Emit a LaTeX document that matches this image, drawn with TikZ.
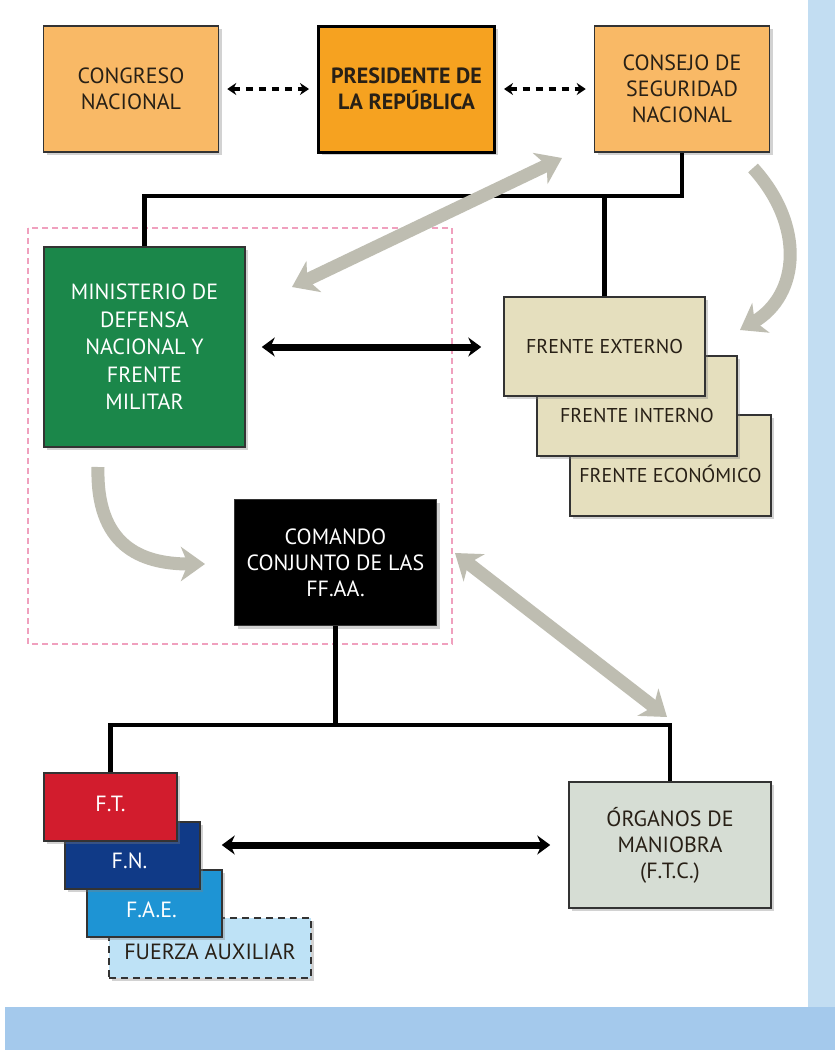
\documentclass[tikz,border=0pt]{standalone}
\usepackage{fontspec}
\setmainfont{PT Sans}
\usetikzlibrary{calc,arrows.meta,shadows}
\definecolor{congresoOrange}{RGB}{249,185,102}
\definecolor{presiOrange}{RGB}{246,162,32}
\definecolor{defensaGreen}{RGB}{27,135,74}
\definecolor{frenteBeige}{RGB}{229,223,190}
\definecolor{ftRed}{RGB}{210,28,45}
\definecolor{fnBlue}{RGB}{16,58,135}
\definecolor{faeBlue}{RGB}{30,148,212}
\definecolor{auxBlue}{RGB}{190,226,246}
\definecolor{organoGrey}{RGB}{214,221,212}
\definecolor{arrowGrey}{RGB}{190,189,177}
\definecolor{boxText}{RGB}{40,32,22}
\definecolor{frameBlue}{RGB}{194,221,242}
\definecolor{bandBlue}{RGB}{164,201,236}
\definecolor{frameRose}{RGB}{240,160,190}
\tikzset{x=1pt, y=-1pt,
  org box/.style={draw=black!80, line width=1.5pt, align=center, text=boxText,
        font=\fontsize{22}{26}\selectfont,
        drop shadow={shadow xshift=3pt, shadow yshift=-3pt, opacity=0.35}},
  stack text/.style={font=\fontsize{22}{26}\selectfont},
  narrow text/.style={font=\fontsize{20}{24}\selectfont},
  link line/.style={line width=4.5pt, draw=black},
  both arrow/.style={draw=black, line width=7pt, <->, >={Stealth[length=13pt,width=19pt]}},
  dash arrow/.style={draw=black, <->, >={Stealth[length=9pt,width=12pt]}, line width=4pt,
        dash pattern=on 7pt off 6pt, shorten <=8pt, shorten >=8pt},
  gray arrow/.style={line width=13pt, draw=arrowGrey,
        -{Stealth[length=24pt,width=34pt,inset=7pt]}},
  gray twin/.style={line width=13pt, draw=arrowGrey,
        {Stealth[length=24pt,width=34pt,inset=7pt]}-{Stealth[length=24pt,width=34pt,inset=7pt]}}
}
\def\StackBox#1#2#3#4#5#6{%
  \node[org box, #3] (#1) at (#2) {};
  \node[stack text, #5] (#1-label) at ($(#1.center)+(#4)$) {#6};
}

\begin{document}
\begin{tikzpicture}
\useasboundingbox (0,0) rectangle (835,1050);
\fill[white] (0,0) rectangle (835,1050);
\fill[frameBlue] (808,0) rectangle (835,1007);
\fill[bandBlue] (5,1007) rectangle (835,1050);

\draw[frameRose, line width=1.2pt, dash pattern=on 6pt off 4pt] (28,228) rectangle (452,644);

\node[org box, fill=congresoOrange, minimum width=175, minimum height=126] (congreso) at (131,89) {CONGRESO\\NACIONAL};
\node[org box, fill=presiOrange, draw=black, line width=3pt, minimum width=176, minimum height=126,
      font=\fontsize{22}{26}\selectfont\bfseries] (presidente) at (406.5,89) {PRESIDENTE DE\\LA REPÚBLICA};
\node[org box, fill=congresoOrange, minimum width=175, minimum height=126] (consejo) at (682,89) {CONSEJO DE\\SEGURIDAD\\NACIONAL};

\draw[dash arrow] (congreso) -- (presidente);
\draw[dash arrow] (presidente) -- (consejo);

\node[org box, fill=defensaGreen, text=white, minimum width=201, minimum height=200,
      font=\fontsize{22}{27.5}\selectfont] (ministerio) at (144.5,347) {MINISTERIO DE\\DEFENSA\\NACIONAL Y\\FRENTE\\MILITAR};

\StackBox{frEco}{670.5,465.5}{fill=frenteBeige, minimum width=201, minimum height=101}{0,8}{narrow text, text=boxText}{FRENTE ECONÓMICO}
\StackBox{frInt}{637,406}{fill=frenteBeige, minimum width=200, minimum height=100}{0,9}{narrow text, text=boxText}{FRENTE INTERNO}
\StackBox{frExt}{604.5,346.5}{fill=frenteBeige, minimum width=201, minimum height=99}{0,0}{narrow text, text=boxText}{FRENTE EXTERNO}

\coordinate (busTop) at (682,196);
\draw[link line] (consejo.south) -- (busTop) -| (ministerio.north);
\draw[link line] (frExt.north) -- (frExt.north |- busTop);

\draw[both arrow, shorten <=16pt, shorten >=22pt] (ministerio.east) -- (ministerio.east -| frExt.west);

\node[org box, fill=black, text=white, minimum width=202, minimum height=126] (comando) at (335.5,562.5) {COMANDO\\CONJUNTO DE LAS\\FF.AA.};

\StackBox{aux}{210,948}{fill=auxBlue, dash pattern=on 7pt off 5pt, minimum width=202, minimum height=60}{0,4}{text=boxText}{FUERZA AUXILIAR}
\StackBox{fae}{154.5,903.5}{fill=faeBlue, minimum width=135, minimum height=67}{-3,6}{text=white}{F.A.E.}
\StackBox{fn}{132.5,855.5}{fill=fnBlue, minimum width=135, minimum height=67}{-3,5}{text=white}{F.N.}
\StackBox{ft}{110.5,807}{fill=ftRed, minimum width=133, minimum height=68}{0,-3}{text=white}{F.T.}

\node[org box, fill=organoGrey, minimum width=202, minimum height=126] (organos) at (670,845) {ÓRGANOS DE\\MANIOBRA\\(F.T.C.)};

\coordinate (busLow) at (335.5,725);
\draw[link line] (comando.south) -- (busLow);
\draw[link line] (ft.north) |- (organos.north |- busLow) -- (organos.north);

\draw[both arrow, shorten <=21pt, shorten >=18pt] (organos.west -| fn.east) -- (organos.west);

\coordinate (gaMin) at (292,287);
\coordinate (gaCon) at (562,158);
\coordinate (gaConOut) at (753,168);
\coordinate (gaFrente) at (740,330);
\coordinate (gaMinOut) at (98,467);
\coordinate (gaComando) at (205,564);
\coordinate (gaComIn) at (455,553);
\coordinate (gaOrganos) at (667,717);
\draw[gray twin] (gaMin) -- (gaCon);
\draw[gray arrow] (gaConOut) .. controls (805,225) and (800,295) .. (gaFrente);
\draw[gray arrow] (gaMinOut) .. controls (96,545) and (140,564) .. (gaComando);
\draw[gray twin] (gaComIn) -- (gaOrganos);
\end{tikzpicture}
\end{document}
